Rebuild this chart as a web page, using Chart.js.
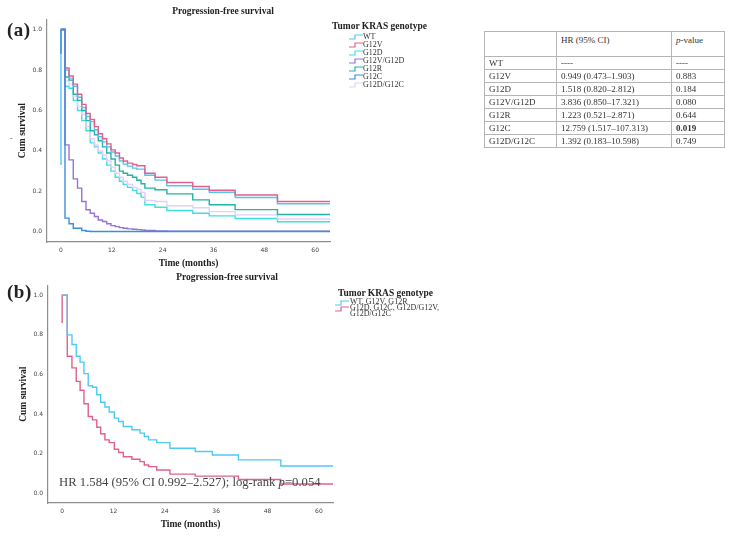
<!DOCTYPE html>
<html><head><meta charset="utf-8">
<script src="https://cdn.jsdelivr.net/npm/chart.js@4/dist/chart.umd.min.js"></script>
<style>
html,body{margin:0;padding:0;background:#fff;}
body{width:731px;height:539px;position:relative;overflow:hidden;font-family:"Liberation Serif",serif;color:#222;}
.abs{position:absolute;}
.panel{font-weight:bold;font-size:19px;line-height:20px;letter-spacing:0.5px;}
.lgTitle{font-weight:bold;font-size:9.5px;line-height:12px;white-space:nowrap;}
.lgItem{font-size:8px;line-height:8px;white-space:nowrap;color:#333;}
.lgItem svg{position:absolute;left:0;top:1px;}
table{border-collapse:collapse;font-size:9px;color:#333;table-layout:fixed;}
td{border:1px solid #b5b5b5;padding:0 0 0 4px;height:12px;line-height:12px;white-space:nowrap;overflow:hidden;}
tr.hd td{height:22px;vertical-align:top;padding-top:2px;}
.hr{font-size:12.7px;line-height:14px;color:#444;white-space:nowrap;}
</style>
</head><body>
<canvas id="chartA" class="abs" style="left:0;top:0" width="446" height="272"></canvas>
<canvas id="chartB" class="abs" style="left:0;top:266px" width="454" height="268"></canvas>
<div class="abs panel" style="left:7px;top:20px">(a)</div>
<div class="abs panel" style="left:7px;top:282px">(b)</div>
<div class="abs" style="left:10px;top:134px;font-size:8px;color:#555">-</div>
<div id="legendA"></div>
<div id="legendB"></div>
<div class="abs hr" style="left:59px;top:475px">HR 1.584 (95% CI 0.992–2.527); log-rank <i>p</i>=0.054</div>
<table id="hrTable" class="abs" style="left:484px;top:31px;width:240px"></table>
<script>
// ---------- data ----------
const xTicks = [0, 12, 24, 36, 48, 60];
const yTicks = [0, 0.2, 0.4, 0.6, 0.8, 1.0];

// Panel (a): event times (months) shared by all genotypes
const timesA = [0, 0.95, 1.9, 2.9, 3.9, 4.9, 5.9, 6.9, 7.9, 8.8, 9.8, 10.8, 11.8, 12.8, 13.8, 14.7, 15.7, 16.9, 17.9, 18.9, 19.8, 22.2, 25, 31.1, 35, 41.1, 51.1, 63.5];
const survWT      = [1, 0.80, 0.76, 0.72, 0.665, 0.615, 0.57, 0.545, 0.505, 0.47, 0.445, 0.42, 0.395, 0.375, 0.35, 0.335, 0.325, 0.315, 0.31, 0.31, 0.28, 0.256, 0.228, 0.211, 0.196, 0.17, 0.139, 0.139];
const survG12V    = [1, 0.81, 0.77, 0.73, 0.68, 0.63, 0.585, 0.555, 0.52, 0.485, 0.46, 0.435, 0.405, 0.39, 0.365, 0.35, 0.34, 0.333, 0.327, 0.327, 0.29, 0.27, 0.244, 0.224, 0.206, 0.182, 0.15, 0.15];
const survG12D    = [1, 0.72, 0.71, 0.65, 0.60, 0.55, 0.50, 0.44, 0.42, 0.39, 0.36, 0.33, 0.30, 0.27, 0.25, 0.235, 0.22, 0.205, 0.19, 0.172, 0.134, 0.122, 0.106, 0.092, 0.079, 0.066, 0.05, 0.05];
const survG12VG12D= [1, 0.43, 0.356, 0.262, 0.216, 0.15, 0.109, 0.092, 0.076, 0.059, 0.051, 0.04, 0.031, 0.026, 0.021, 0.018, 0.015, 0.013, 0.011, 0.009, 0.007, 0.005, 0.003, 0.003, 0.003, 0.003, 0.003, 0.003];
const survG12R    = [1, 0.765, 0.75, 0.68, 0.65, 0.60, 0.55, 0.50, 0.48, 0.45, 0.42, 0.39, 0.36, 0.33, 0.30, 0.29, 0.28, 0.27, 0.255, 0.238, 0.216, 0.208, 0.188, 0.158, 0.134, 0.11, 0.086, 0.086];
const survG12C    = [1, 0.068, 0.04, 0.018, 0.018, 0.007, 0.003, 0.002, 0.002, 0.002, 0.002, 0.002, 0.002, 0.002, 0.002, 0.002, 0.002, 0.002, 0.002, 0.002, 0.002, 0.002, 0.002, 0.002, 0.002, 0.002, 0.002, 0.002];
const survG12DG12C= [1, 0.745, 0.73, 0.67, 0.62, 0.58, 0.52, 0.46, 0.43, 0.40, 0.38, 0.35, 0.32, 0.29, 0.27, 0.25, 0.235, 0.22, 0.21, 0.195, 0.155, 0.15, 0.129, 0.119, 0.10, 0.084, 0.064, 0.064];
const startWT = 0.33;    // vertical segment at time 0 visible in the figure
const startG12C = 0.88;
const genotypesA = ['WT', 'G12V', 'G12D', 'G12V/G12D', 'G12R', 'G12C', 'G12D/G12C'];

// Panel (b)
const timesB = [0, 1.2, 2.3, 3.3, 4.2, 5.1, 6.1, 7.1, 8.1, 9, 10, 11, 12.2, 13.2, 14.3, 16.3, 18.2, 19.2, 20.2, 22.1, 25.2, 31.1, 35.1, 41.2, 51.1, 63.3];
const survGroup1 = [1, 0.80, 0.751, 0.692, 0.662, 0.604, 0.543, 0.535, 0.497, 0.459, 0.435, 0.41, 0.379, 0.362, 0.337, 0.32, 0.303, 0.286, 0.269, 0.255, 0.227, 0.21, 0.193, 0.168, 0.137, 0.137];
const survGroup2 = [1, 0.692, 0.633, 0.565, 0.52, 0.452, 0.387, 0.37, 0.333, 0.30, 0.269, 0.255, 0.222, 0.205, 0.184, 0.171, 0.159, 0.142, 0.134, 0.117, 0.096, 0.086, 0.086, 0.069, 0.046, 0.046];
const startGroup2 = 0.86;
const groupsB = ['WT, G12V, G12R', 'G12D, G12C, G12D/G12V,\nG12D/G12C'];

// Table
const tableGenotypes = ['WT', 'G12V', 'G12D', 'G12V/G12D', 'G12R', 'G12C', 'G12D/G12C'];
const tableHR = ['----', '0.949 (0.473–1.903)', '1.518 (0.820–2.812)', '3.836 (0.850–17.321)', '1.223 (0.521–2.871)', '12.759 (1.517–107.313)', '1.392 (0.183–10.598)'];
const tableP = ['----', '0.883', '0.184', '0.080', '0.644', '0.019', '0.749'];
const significantP = '0.019';

// ---------- styles ----------
const colorsA = {'WT':'#55c4f0','G12V':'#e0608e','G12D':'#3ee2dc','G12V/G12D':'#9a72d3','G12R':'#22b4a4','G12C':'#3b8edb','G12D/G12C':'#e4cff8'};
const colorsB = ['#4ccaf5', '#e0608e'];
const serifBold = {family:'"Liberation Serif", serif', size:9.5, weight:'bold'};
const tickFont = {family:'"DejaVu Sans", sans-serif', size:6};

function toPoints(times, surv, lead) {
  const pts = times.map((t, i) => ({x: t, y: surv[i]}));
  if (lead !== undefined) pts.unshift({x: 0, y: lead});
  return pts;
}
function ds(label, data, color) {
  return {label, data, borderColor: color, backgroundColor: color, borderWidth: 1.4, stepped: 'before', pointRadius: 0, fill: false, tension: 0};
}

function makeChart(id, datasets, cfg) {
  return new Chart(document.getElementById(id), {
    type: 'line',
    data: {datasets},
    options: {
      responsive: false, animation: false, devicePixelRatio: 1,
      layout: {padding: 0},
      plugins: {
        legend: {display: false}, tooltip: {enabled: false},
        title: {display: true, text: 'Progression-free survival', font: serifBold, color: '#222', padding: {top: 6, bottom: 2}}
      },
      scales: {
        x: {
          type: 'linear', min: -3.3, max: cfg.xMax,
          grid: {display: false, drawTicks: false},
          border: {display: true, color: '#8e8e8e', width: 1.2},
          afterBuildTicks: s => { s.ticks = xTicks.map(v => ({value: v})); },
          afterFit: s => { s.height = cfg.xAxisH; },
          ticks: {font: tickFont, color: '#444', padding: 5, maxRotation: 0, autoSkip: false},
          title: {display: true, text: 'Time (months)', font: serifBold, color: '#222', padding: {top: 0, bottom: cfg.xTitlePad}}
        },
        y: {
          type: 'linear', position: 'left', min: -0.05, max: 1.05,
          grid: {display: false, drawTicks: false},
          border: {display: true, color: '#8e8e8e', width: 1.2},
          afterBuildTicks: s => { s.ticks = yTicks.map(v => ({value: v})); },
          afterFit: s => { s.width = cfg.yAxisW; },
          ticks: {font: tickFont, color: '#444', padding: 5, callback: v => Number(v).toFixed(1)},
          title: {display: true, text: 'Cum survival', font: serifBold, color: '#222', padding: {top: cfg.yTitlePad, bottom: 0}}
        },
        spacer: {
          type: 'linear', position: 'right', display: true,
          grid: {display: false, drawTicks: false}, border: {display: false},
          ticks: {display: false},
          afterFit: s => { s.width = cfg.rightW; }
        }
      }
    }
  });
}

// Panel (a)
const seriesA = {
  'WT': toPoints(timesA, survWT, startWT),
  'G12V': toPoints(timesA, survG12V),
  'G12D': toPoints(timesA, survG12D),
  'G12V/G12D': toPoints(timesA, survG12VG12D),
  'G12R': toPoints(timesA, survG12R),
  'G12C': toPoints(timesA, survG12C, startG12C),
  'G12D/G12C': toPoints(timesA, survG12DG12C)
};
const drawOrderA = ['G12C', 'G12V/G12D', 'G12V', 'WT', 'G12R', 'G12D/G12C', 'G12D'];
makeChart('chartA', drawOrderA.map(g => ds(g, seriesA[g], colorsA[g])),
  {xMax: 63.5, xAxisH: 30, xTitlePad: 3, yAxisW: 47, yTitlePad: 17, rightW: 116});

// Panel (b)
makeChart('chartB', [
  ds(groupsB[0], toPoints(timesB, survGroup1), colorsB[0]),
  ds(groupsB[1], toPoints(timesB, survGroup2, startGroup2), colorsB[1])
], {xMax: 63.3, xAxisH: 31, xTitlePad: 4, yAxisW: 48, yTitlePad: 18, rightW: 121});

// ---------- legends ----------
function icon(color) {
  return '<svg width="14" height="6" viewBox="0 0 14 6"><polyline points="0,5 6,5 6,1 14,1" fill="none" stroke="' + color + '" stroke-width="1.2"/></svg>';
}
function buildLegend(el, x, y, items) {
  el.innerHTML = '';
  const t = document.createElement('div');
  t.className = 'abs lgTitle';
  t.style.left = x.title + 'px'; t.style.top = y.title + 'px';
  t.textContent = 'Tumor KRAS genotype';
  el.appendChild(t);
  items.forEach((it, i) => {
    const d = document.createElement('div');
    d.className = 'abs lgItem';
    d.style.left = x.icon + 'px'; d.style.top = (y.first + i * y.step) + 'px';
    d.style.paddingLeft = (x.text - x.icon) + 'px';
    d.style.lineHeight = it.lh || '8px';
    d.innerHTML = icon(it.color) + it.label.replace('\n', '<br>');
    el.appendChild(d);
  });
}
buildLegend(document.getElementById('legendA'), {title: 332, icon: 349, text: 363}, {title: 20, first: 33, step: 8},
  genotypesA.map(g => ({label: g, color: colorsA[g]})));
buildLegend(document.getElementById('legendB'), {title: 338, icon: 335, text: 350}, {title: 287, first: 299, step: 6},
  groupsB.map((g, i) => ({label: g, color: colorsB[i], lh: '6px'})));

// ---------- table ----------
const tbl = document.getElementById('hrTable');
let html = '<colgroup><col style="width:72px"><col style="width:115px"><col style="width:53px"></colgroup>';
html += '<tr class="hd"><td></td><td>HR (95% CI)</td><td><i>p</i>-value</td></tr>';
tableGenotypes.forEach((g, i) => {
  const p = tableP[i] === significantP ? '<b>' + tableP[i] + '</b>' : tableP[i];
  html += '<tr><td>' + g + '</td><td>' + tableHR[i] + '</td><td>' + p + '</td></tr>';
});
tbl.innerHTML = html;
</script>
</body></html>
